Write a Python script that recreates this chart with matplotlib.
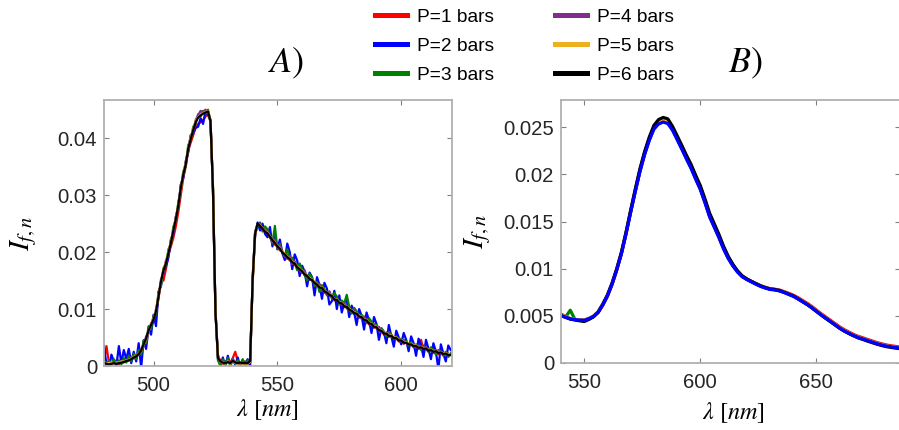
import numpy as np
import matplotlib
matplotlib.use("Agg")
import matplotlib.pyplot as plt
from matplotlib.lines import Line2D

plt.rcParams['font.family'] = ['Liberation Sans', 'DejaVu Sans']
plt.rcParams['mathtext.fontset'] = 'stix'

# ---------------- data ----------------
labels = ["P=1 bars", "P=2 bars", "P=3 bars", "P=4 bars", "P=5 bars", "P=6 bars"]
colors = ["#FF0000", "#0000FF", "#008000", "#7E2F8E", "#EDB120", "#000000"]

# Panel A: wavelength 480..620 nm (1 nm step), intensity in units of 1e-4
wl_a = np.arange(480, 621, 1)
a_p1 = [10, 35, 5, 3, 6, 8, 3, 7, 9, 8,
        12, 11, 16, 15, 23, 25, 40, 45, 60, 70,
        78, 92, 118, 148, 150, 170, 195, 210, 225, 245,
        270, 300, 330, 350, 378, 392, 405, 420, 425, 428,
        432, 438, 445, 428, 312, 98, 16, 10, 4, 8,
        10, 6, 14, 25, 8, 4, 6, 8, 4, 7,
        145, 230, 248, 244, 240, 238, 230, 226, 224, 213,
        212, 203, 202, 193, 194, 185, 184, 177, 176, 168,
        168, 159, 160, 151, 153, 144, 145, 136, 139, 129,
        131, 123, 125, 115, 118, 109, 112, 103, 106, 97,
        99, 91, 94, 85, 88, 79, 82, 73, 76, 67,
        70, 61, 64, 55, 59, 51, 55, 47, 51, 43,
        47, 39, 43, 36, 40, 33, 37, 30, 46, 28,
        33, 25, 30, 23, 28, 21, 26, 19, 24, 17,
        22]
a_p2 = [35, 2, -5, 20, 8, 0, 35, 5, 28, 12,
        30, 5, 25, 8, 40, -3, 45, 30, 68, 55,
        90, 70, 130, 140, 165, 175, 190, 222, 232, 262,
        278, 318, 330, 358, 375, 405, 408, 418, 420, 435,
        425, 448, 440, 432, 305, 92, 20, 2, 15, -2,
        18, 0, 12, 2, 15, -2, 10, 3, 12, 0,
        155, 228, 252, 238, 250, 232, 226, 244, 210, 232,
        205, 222, 198, 186, 215, 200, 170, 196, 185, 158,
        176, 166, 140, 164, 156, 124, 156, 142, 118, 146,
        136, 108, 114, 132, 100, 124, 94, 111, 116, 86,
        106, 94, 72, 100, 88, 64, 94, 80, 58, 86,
        74, 46, 66, 60, 40, 72, 52, 34, 62, 50,
        38, 58, 46, 26, 52, 40, 18, 48, 36, 16,
        46, 30, 12, 40, 25, -5, 38, 22, 8, 36,
        28]
a_p3 = [8, 0, 10, 2, 12, 5, 10, 3, 14, 6,
        18, 8, 22, 12, 28, 20, 45, 40, 70, 65,
        88, 90, 130, 142, 172, 176, 205, 212, 245, 255,
        288, 308, 342, 350, 388, 395, 420, 425, 442, 438,
        448, 443, 450, 428, 315, 98, 10, 0, 12, 2,
        14, 0, 12, 4, 10, 2, 12, 0, 10, 8,
        148, 235, 246, 252, 236, 245, 240, 228, 215, 246,
        205, 215, 200, 192, 205, 186, 190, 182, 168, 180,
        170, 160, 150, 162, 155, 140, 148, 130, 142, 135,
        124, 130, 118, 128, 122, 108, 115, 110, 125, 104,
        92, 102, 96, 86, 90, 84, 75, 84, 78, 68,
        72, 62, 66, 60, 52, 60, 55, 48, 52, 44,
        48, 40, 44, 36, 41, 33, 38, 34, 28, 36,
        30, 25, 33, 26, 20, 28, 24, 18, 25, 16,
        22]
a_p4 = [5, 2, 8, 3, 6, 7, 4, 9, 6, 11,
        9, 15, 13, 20, 19, 30, 36, 52, 60, 75,
        80, 100, 120, 152, 165, 185, 195, 220, 235, 262,
        278, 318, 332, 360, 378, 405, 410, 432, 440, 448,
        445, 450, 446, 432, 308, 96, 12, 6, 9, 4,
        9, 4, 12, 5, 8, 4, 7, 4, 8, 6,
        152, 236, 249, 250, 238, 240, 236, 226, 218, 222,
        207, 212, 200, 194, 188, 194, 179, 184, 176, 168,
        163, 168, 155, 152, 150, 146, 140, 144, 134, 130,
        126, 131, 120, 119, 116, 112, 107, 110, 101, 98,
        95, 99, 89, 86, 83, 87, 77, 76, 71, 74,
        66, 69, 60, 58, 55, 58, 51, 50, 47, 49,
        43, 46, 40, 38, 36, 39, 33, 32, 31, 34,
        28, 30, 26, 25, 24, 27, 22, 21, 20, 22,
        19]
a_p5 = [7, 5, 5, 6, 4, 6, 6, 8, 8, 10,
        11, 13, 16, 18, 22, 26, 37, 46, 60, 73,
        84, 98, 125, 146, 170, 182, 200, 218, 240, 260,
        284, 310, 338, 356, 384, 400, 416, 430, 437, 441,
        444, 446, 448, 432, 312, 97, 15, 7, 7, 4,
        8, 4, 8, 5, 4, 5, 4, 4, 4, 8,
        148, 231, 249, 247, 242, 237, 234, 228, 222, 217,
        211, 207, 200, 197, 192, 189, 183, 181, 174, 171,
        167, 162, 159, 154, 152, 147, 144, 139, 138, 132,
        130, 126, 124, 118, 117, 112, 111, 106, 105, 100,
        98, 94, 93, 88, 87, 82, 81, 76, 75, 70,
        69, 64, 63, 58, 58, 54, 54, 50, 50, 46,
        46, 42, 42, 39, 39, 36, 36, 33, 34, 31,
        32, 28, 29, 26, 27, 24, 25, 22, 23, 20,
        21]
a_p6 = [6, 4, 3, 4, 5, 4, 5, 6, 7, 9,
        10, 12, 15, 17, 21, 27, 38, 48, 62, 72,
        82, 96, 122, 148, 168, 180, 198, 216, 238, 258,
        282, 312, 336, 354, 382, 398, 414, 428, 436, 440,
        443, 445, 447, 430, 310, 95, 14, 8, 6, 5,
        7, 5, 9, 6, 5, 6, 5, 5, 5, 9,
        150, 232, 250, 246, 241, 236, 233, 227, 221, 216,
        210, 206, 199, 196, 191, 188, 182, 180, 173, 170,
        166, 161, 158, 153, 151, 146, 143, 138, 137, 131,
        129, 125, 123, 117, 116, 111, 110, 105, 104, 99,
        97, 93, 92, 87, 86, 81, 80, 75, 74, 69,
        68, 63, 62, 57, 57, 53, 53, 49, 49, 45,
        45, 41, 41, 38, 38, 35, 35, 32, 33, 30,
        31, 27, 28, 25, 26, 23, 24, 21, 22, 19,
        20]

# Panel B: wavelength 540..686 nm (2 nm step), intensity in units of 1e-5
wl_b = np.arange(540, 687, 2)
b_p1 = [520, 492, 470, 462, 456, 452, 468, 492, 535, 612,
        708, 832, 985, 1158, 1372, 1605, 1828, 2040, 2222, 2372,
        2490, 2545, 2565, 2550, 2482, 2382, 2280, 2178, 2078, 1962,
        1850, 1712, 1562, 1452, 1340, 1220, 1118, 1038, 972, 922,
        892, 866, 842, 820, 803, 788, 783, 775, 758, 740,
        720, 694, 664, 634, 600, 562, 524, 489, 454, 419,
        384, 354, 328, 303, 283, 267, 250, 234, 217, 204,
        192, 183, 176, 169]
b_p2 = [502, 485, 468, 460, 455, 453, 470, 495, 540, 620,
        715, 840, 990, 1160, 1370, 1600, 1820, 2030, 2210, 2360,
        2480, 2535, 2556, 2540, 2470, 2370, 2270, 2165, 2065, 1950,
        1840, 1700, 1550, 1440, 1330, 1210, 1110, 1030, 965, 915,
        885, 860, 835, 812, 795, 780, 775, 765, 748, 728,
        708, 680, 650, 620, 585, 548, 510, 475, 440, 405,
        370, 340, 315, 290, 270, 255, 238, 222, 205, 192,
        180, 172, 165, 158]
b_p3 = [505, 488, 560, 462, 455, 452, 470, 494, 538, 618,
        712, 838, 990, 1162, 1375, 1605, 1828, 2038, 2220, 2372,
        2492, 2550, 2570, 2552, 2485, 2382, 2280, 2175, 2075, 1960,
        1850, 1710, 1560, 1450, 1340, 1218, 1116, 1036, 970, 920,
        889, 864, 838, 815, 798, 784, 778, 768, 751, 731,
        711, 684, 654, 624, 589, 552, 514, 479, 444, 409,
        374, 344, 319, 294, 274, 258, 241, 225, 208, 195,
        183, 175, 168, 161]
b_p4 = [506, 488, 470, 462, 456, 454, 472, 497, 542, 622,
        718, 843, 994, 1165, 1376, 1607, 1828, 2040, 2220, 2372,
        2494, 2552, 2574, 2558, 2488, 2386, 2284, 2178, 2078, 1962,
        1852, 1712, 1562, 1452, 1342, 1220, 1120, 1040, 972, 922,
        890, 865, 840, 817, 800, 785, 779, 769, 752, 732,
        712, 684, 654, 624, 589, 552, 514, 478, 443, 408,
        373, 343, 318, 293, 273, 257, 240, 224, 207, 194,
        182, 174, 167, 160]
b_p5 = [512, 490, 472, 463, 456, 455, 473, 498, 545, 628,
        724, 850, 1002, 1174, 1386, 1618, 1840, 2052, 2232, 2384,
        2505, 2560, 2584, 2566, 2496, 2394, 2292, 2188, 2088, 1972,
        1862, 1722, 1572, 1462, 1350, 1228, 1126, 1044, 976, 925,
        893, 867, 842, 819, 801, 786, 780, 770, 753, 733,
        712, 685, 655, 625, 590, 553, 515, 479, 444, 409,
        374, 344, 318, 293, 273, 257, 240, 224, 207, 194,
        182, 174, 167, 160]
b_p6 = [504, 484, 466, 456, 448, 440, 462, 490, 540, 622,
        720, 846, 998, 1172, 1385, 1620, 1845, 2060, 2242, 2395,
        2520, 2582, 2605, 2590, 2512, 2412, 2310, 2205, 2108, 1992,
        1882, 1742, 1590, 1478, 1365, 1240, 1132, 1048, 978, 925,
        892, 866, 842, 818, 800, 786, 780, 770, 752, 732,
        712, 684, 652, 622, 586, 548, 510, 474, 440, 404,
        368, 338, 312, 288, 266, 250, 232, 216, 200, 186,
        174, 166, 158, 152]

a_ticks_x = [500, 550, 600]
a_ticks_y = [0, 0.01, 0.02, 0.03, 0.04]
a_ticklabels_y = ["0", "0.01", "0.02", "0.03", "0.04"]
b_ticks_x = [550, 600, 650]
b_ticks_y = [0, 0.005, 0.01, 0.015, 0.02, 0.025]
b_ticklabels_y = ["0", "0.005", "0.01", "0.015", "0.02", "0.025"]

# ---------------- figure ----------------
W, H = 899, 430
fig = plt.figure(figsize=(W / 100, H / 100), dpi=100)

def px_axes(l, t, r, b):
    return fig.add_axes([l / W, 1 - b / H, (r - l) / W, (b - t) / H])

axA = px_axes(104, 100, 452, 366)
axB = px_axes(561, 100, 900, 363)

spine_c = "#b0b0b0"
tick_c = "#262626"

def style(ax):
    for s in ax.spines.values():
        s.set_color(spine_c)
        s.set_linewidth(1.3)
    ax.tick_params(direction="in", length=3.3, width=0.8, color="#808080",
                   labelcolor=tick_c, labelsize=14.6, top=True, right=True)
    ax.tick_params(axis="x", pad=7)
    ax.tick_params(axis="y", pad=5)

a_series = [a_p1, a_p2, a_p3, a_p4, a_p5, a_p6]
for vals, c in zip(a_series, colors):
    axA.plot(wl_a, np.array(vals) * 1e-4, color=c, lw=1.6, solid_joinstyle="round")
axA.set_xlim(480, 620.5)
axA.set_ylim(0, 0.0467)
axA.set_xticks(a_ticks_x)
axA.set_yticks(a_ticks_y)
axA.set_yticklabels(a_ticklabels_y)
style(axA)

b_series = [b_p1, b_p2, b_p3, b_p4, b_p5, b_p6]
order_b = [0, 2, 3, 4, 5, 1]
for i in order_b:
    axB.plot(wl_b, np.array(b_series[i]) * 1e-5, color=colors[i], lw=2.3)
axB.set_xlim(540, 686)
axB.set_ylim(0, 0.0279)
axB.set_xticks(b_ticks_x)
axB.set_yticks(b_ticks_y)
axB.set_yticklabels(b_ticklabels_y)
style(axB)

# labels
for ax, ylx, xlx, xly in [(axA, -0.23, 0.471, -0.165), (axB, -0.247, 0.509, -0.19)]:
    ax.text(ylx, 0.5, r"$I_{f,n}$", transform=ax.transAxes, rotation=90,
            ha="center", va="center", fontsize=21, color="black")
    ax.text(xlx, xly, r"$\lambda\ [nm]$", transform=ax.transAxes,
            ha="center", va="center", fontsize=17.5, color="black")

fig.text(286 / W, 1 - 63 / H, r"$A)$", ha="center", va="center", fontsize=26)
fig.text(745 / W, 1 - 63 / H, r"$B)$", ha="center", va="center", fontsize=26)

handles = [Line2D([], [], color=c, lw=3.6) for c in colors]
leg = fig.legend(handles, labels, ncol=2, loc="upper left",
                 bbox_to_anchor=(375 / W, 1 - 8.5 / H), frameon=False,
                 fontsize=13.8, handlelength=1.67, handletextpad=0.52,
                 columnspacing=3.2, labelspacing=0.6, borderpad=0,
                 borderaxespad=0)

fig.savefig("out.png", dpi=100)
